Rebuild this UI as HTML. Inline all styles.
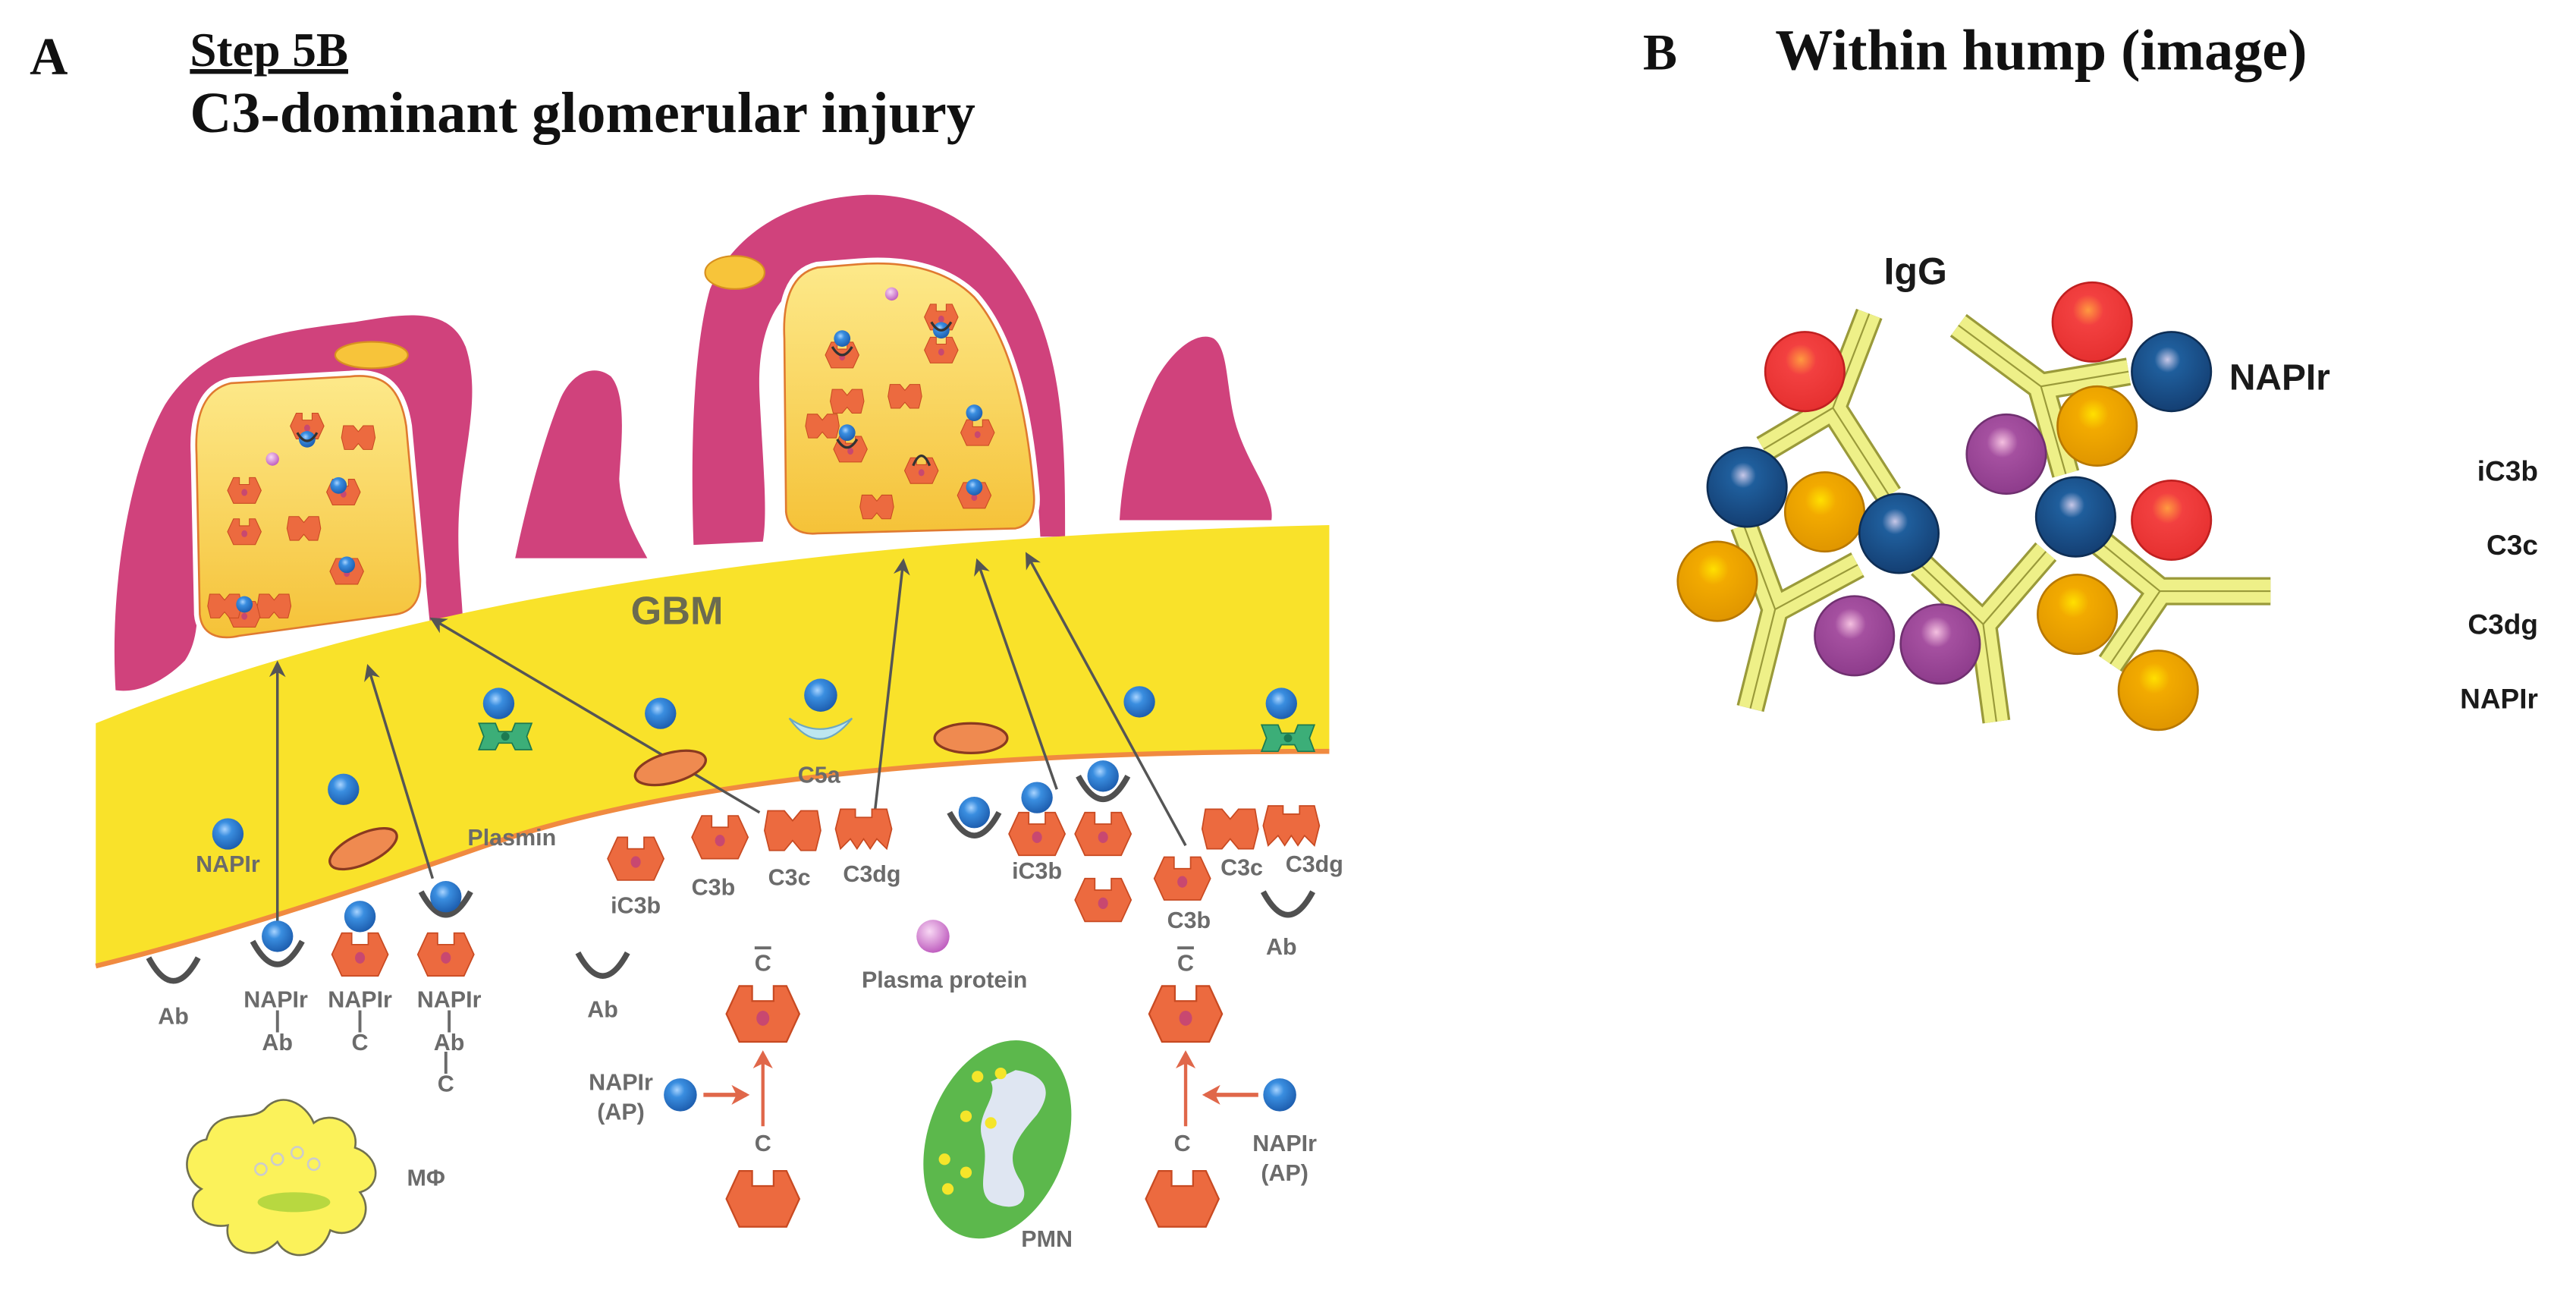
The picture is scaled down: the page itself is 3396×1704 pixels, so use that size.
<!DOCTYPE html>
<html><head><meta charset="utf-8"><style>
html,body{margin:0;padding:0;background:#fff;}
svg{display:block;}
.l{font-family:"Liberation Sans",sans-serif;font-weight:bold;fill:#6b6b6b;font-size:14px;text-anchor:middle;}
.b{font-family:"Liberation Sans",sans-serif;font-weight:bold;fill:#1a1a1a;}
.t{font-family:"Liberation Serif",serif;font-weight:bold;fill:#111;}
</style></head><body>
<svg width="3396" height="1704" viewBox="0 0 1560 783" preserveAspectRatio="none" xmlns="http://www.w3.org/2000/svg">
<defs>
<radialGradient id="gb" cx="0.4" cy="0.35" r="0.65"><stop offset="0" stop-color="#a9d4ff"/><stop offset="0.35" stop-color="#3a8ee0"/><stop offset="1" stop-color="#1e5fb0"/></radialGradient>
<radialGradient id="bB" cx="0.45" cy="0.35" r="0.65"><stop offset="0" stop-color="#c8c8e8"/><stop offset="0.25" stop-color="#1f5e9c"/><stop offset="1" stop-color="#143f73"/></radialGradient>
<radialGradient id="bR" cx="0.45" cy="0.35" r="0.65"><stop offset="0" stop-color="#ff9a40"/><stop offset="0.3" stop-color="#f24040"/><stop offset="1" stop-color="#e63030"/></radialGradient>
<radialGradient id="bO" cx="0.45" cy="0.35" r="0.65"><stop offset="0" stop-color="#ffe000"/><stop offset="0.3" stop-color="#f2aa00"/><stop offset="1" stop-color="#e09600"/></radialGradient>
<radialGradient id="bP" cx="0.45" cy="0.35" r="0.65"><stop offset="0" stop-color="#f4c0e0"/><stop offset="0.3" stop-color="#a550a0"/><stop offset="1" stop-color="#8e3c8c"/></radialGradient>
<radialGradient id="pp" cx="0.4" cy="0.35" r="0.65"><stop offset="0" stop-color="#f8d8f4"/><stop offset="1" stop-color="#c060c0"/></radialGradient>
<linearGradient id="yb" x1="0" y1="0" x2="0" y2="1"><stop offset="0" stop-color="#fde98a"/><stop offset="1" stop-color="#f5c238"/></linearGradient>
<g id="hx"><path d="M-17,0 L-11,-13 L-5,-13 L-5,-6 L5,-6 L5,-13 L11,-13 L17,0 L11,13 L-11,13 Z" fill="#ec6a3f" stroke="#c84a22" stroke-width="0.8"/><ellipse cx="0" cy="2" rx="3" ry="3.5" fill="#c84870"/></g>
<g id="c3c"><path d="M-15,-12 L-5,-12 L0,-6 L5,-12 L15,-12 L17,0 L14,12 L5,12 L0,6 L-5,12 L-14,12 L-17,0 Z" fill="#ec6a3f" stroke="#c84a22" stroke-width="0.8"/></g>
<g id="c3dg"><path d="M-14,-12 L-5,-12 L-5,-7 L5,-7 L5,-12 L14,-12 L17,0 L14,12 L8,6 L4,12 L0,6 L-4,12 L-8,6 L-14,12 L-17,0 Z" fill="#ec6a3f" stroke="#c84a22" stroke-width="0.8"/></g>
<g id="ab"><path d="M-15,-8 Q0,20 15,-8" fill="none" stroke="#505050" stroke-width="3.5"/></g>
<g id="ball"><circle r="9.5" fill="url(#gb)"/></g>
<g id="ov"><ellipse rx="22" ry="9" fill="#ef8a50" stroke="#8a3a20" stroke-width="1.5"/></g>
<g id="pl"><path d="M-16,-8 L-6,-8 L-4,-3 L4,-3 L6,-8 L16,-8 L13,0 L16,8 L6,8 L4,4 L-4,4 L-6,8 L-16,8 L-13,0Z" fill="#3cae78" stroke="#1d7a50" stroke-width="0.8"/><circle r="2.5" fill="#1d7a50"/></g>
<marker id="ar" markerWidth="10" markerHeight="10" refX="8" refY="5" orient="auto" markerUnits="userSpaceOnUse"><path d="M0,0 L10,5 L0,10 L3,5Z" fill="#555"/></marker>
<marker id="rr" markerWidth="12" markerHeight="12" refX="9" refY="6" orient="auto" markerUnits="userSpaceOnUse"><path d="M0,0 L11,6 L0,12 L3,6Z" fill="#e0674a"/></marker>
</defs>

<!-- titles -->
<text class="t" x="18" y="45" font-size="32">A</text>
<text class="t" x="115" y="40" font-size="29" text-decoration="underline">Step 5B</text>
<text class="t" x="115" y="80" font-size="35">C3-dominant glomerular injury</text>
<text class="t" x="995" y="42" font-size="31">B</text>
<text class="t" x="1075" y="42" font-size="35">Within hump (image)</text>

<!-- pink podocytes -->
<path d="M70,418 C66,350 80,280 100,245 C125,205 175,200 215,195 C245,190 272,185 282,210 C292,240 280,275 278,310 C276,345 282,370 280,392 L262,392 C258,360 256,320 250,290 C240,255 200,240 160,250 C130,258 115,290 118,330 C120,365 122,385 112,400 C100,412 85,420 70,418Z" fill="#d0427c"/>
<path d="M312,338 C320,300 330,265 338,245 C345,225 360,220 370,228 C380,240 376,270 375,290 C376,310 385,325 392,338 Z" fill="#d0427c"/>
<path d="M420,330 C418,270 420,210 430,175 C445,140 480,120 525,118 C575,117 610,150 628,190 C645,230 645,280 645,325 L630,325 C628,280 620,240 605,210 C585,175 545,160 505,165 C470,170 458,200 460,240 C462,280 465,310 462,328 Z" fill="#d0427c"/>
<path d="M678,315 C680,280 690,250 700,230 C710,212 725,200 735,205 C745,212 742,240 750,262 C758,285 772,300 770,315 Z" fill="#d0427c"/>
<ellipse cx="225" cy="215" rx="22" ry="8" fill="#f7c43a" stroke="#d89020" stroke-width="1"/>
<ellipse cx="445" cy="165" rx="18" ry="10" fill="#f7c43a" stroke="#d89020" stroke-width="1"/>

<!-- GBM -->
<path d="M58,438 C250,360 500,325 805,318 L805,455 C600,455 420,470 300,510 C200,545 120,570 58,585 Z" fill="#f9e22a"/>
<path d="M58,585 C120,570 200,545 300,510 C420,470 600,455 805,455" fill="none" stroke="#f08a40" stroke-width="3"/>
<text x="410" y="378" font-family="Liberation Sans,sans-serif" font-weight="bold" font-size="24" fill="#6b6b50" text-anchor="middle">GBM</text>

<!-- inner boxes -->
<path d="M140,232 C122,236 118,255 119,275 L121,372 C122,384 132,388 145,385 L240,372 C252,370 256,360 254,345 L246,258 C242,232 230,226 212,228 Z" fill="url(#yb)" stroke="#fff" stroke-width="7"/>
<path d="M140,232 C122,236 118,255 119,275 L121,372 C122,384 132,388 145,385 L240,372 C252,370 256,360 254,345 L246,258 C242,232 230,226 212,228 Z" fill="url(#yb)" stroke="#e07a30" stroke-width="1.2"/>
<path d="M495,162 C478,166 474,185 475,205 L476,310 C477,320 485,324 495,323 L615,320 C625,318 627,308 626,298 C622,250 612,205 590,180 C572,162 545,158 520,160 Z" fill="url(#yb)" stroke="#fff" stroke-width="7"/>
<path d="M495,162 C478,166 474,185 475,205 L476,310 C477,320 485,324 495,323 L615,320 C625,318 627,308 626,298 C622,250 612,205 590,180 C572,162 545,158 520,160 Z" fill="url(#yb)" stroke="#e07a30" stroke-width="1.2"/>
<!-- contents left box -->
<use href="#hx" transform="translate(186,258) scale(0.6)"/>
<use href="#hx" transform="translate(148,297) scale(0.6)"/>
<use href="#hx" transform="translate(148,322) scale(0.6)"/>
<use href="#c3c" transform="translate(184,320) scale(0.6)"/>
<use href="#hx" transform="translate(208,298) scale(0.6)"/>
<use href="#hx" transform="translate(210,346) scale(0.6)"/>
<use href="#hx" transform="translate(148,372) scale(0.6)"/>
<use href="#c3c" transform="translate(136,367) scale(0.6)"/>
<use href="#c3c" transform="translate(166,367) scale(0.6)"/>
<use href="#c3c" transform="translate(217,265) scale(0.6)"/>
<!-- contents right box -->
<use href="#hx" transform="translate(510,215) scale(0.6)"/>
<use href="#hx" transform="translate(570,192) scale(0.6)"/>
<use href="#hx" transform="translate(570,212) scale(0.6)"/>
<use href="#c3c" transform="translate(513,243) scale(0.6)"/>
<use href="#c3c" transform="translate(548,240) scale(0.6)"/>
<use href="#c3c" transform="translate(498,258) scale(0.6)"/>
<use href="#hx" transform="translate(515,272) scale(0.6)"/>
<use href="#hx" transform="translate(558,285) scale(0.6)"/>
<use href="#hx" transform="translate(592,262) scale(0.6)"/>
<use href="#hx" transform="translate(590,300) scale(0.6)"/>
<use href="#c3c" transform="translate(531,307) scale(0.6)"/>
<circle cx="165" cy="278" r="4" fill="url(#pp)"/><circle cx="540" cy="178" r="4" fill="url(#pp)"/>
<g fill="url(#gb)">
<circle cx="186" cy="266" r="5"/><circle cx="205" cy="294" r="5"/><circle cx="210" cy="342" r="5"/><circle cx="148" cy="366" r="5"/>
<circle cx="510" cy="205" r="5"/><circle cx="570" cy="200" r="5"/><circle cx="513" cy="262" r="5"/><circle cx="590" cy="250" r="5"/><circle cx="590" cy="295" r="5"/>
</g>
<g fill="none" stroke="#333" stroke-width="1.5">
<path d="M180,262 Q186,272 192,262"/><path d="M504,210 Q510,220 516,210"/><path d="M564,195 Q570,205 576,195"/><path d="M507,266 Q513,276 519,266"/><path d="M553,282 Q558,270 563,282"/>
</g>

<!-- arrows -->
<g stroke="#555" stroke-width="1.6" marker-end="url(#ar)">
<line x1="168" y1="565" x2="168" y2="402"/>
<line x1="262" y1="532" x2="223" y2="404"/>
<line x1="460" y1="492" x2="262" y2="375"/>
<line x1="530" y1="490" x2="547" y2="340"/>
<line x1="640" y1="478" x2="592" y2="340"/>
<line x1="718" y1="512" x2="622" y2="336"/>
</g>

<!-- GBM contents -->
<use href="#ball" x="208" y="478"/><use href="#ball" x="138" y="505"/>
<g transform="translate(220,514) rotate(-25)"><use href="#ov"/></g>
<use href="#pl" x="306" y="446"/><use href="#ball" x="302" y="426"/>
<g transform="translate(406,465) rotate(-15)"><use href="#ov"/></g><use href="#ball" x="400" y="432"/>
<path d="M478,435 Q496,460 516,435 Q496,448 478,435Z" fill="#bde6f0" stroke="#6fa8c0" stroke-width="1"/><circle cx="497" cy="421" r="10" fill="url(#gb)"/>
<g transform="translate(588,447)"><use href="#ov"/></g>
<use href="#ball" x="690" y="425"/>
<use href="#pl" x="780" y="447"/><use href="#ball" x="776" y="426"/>

<!-- below GBM -->
<use href="#ab" x="105" y="588"/><text class="l" x="105" y="620">Ab</text>
<use href="#ab" x="168" y="578"/><use href="#ball" x="168" y="567"/>
<text class="l" x="167" y="610">NAPIr</text><text class="l" x="168" y="622" font-size="9">|</text><text class="l" x="168" y="636">Ab</text>
<use href="#ball" x="218" y="555"/><use href="#hx" x="218" y="578"/>
<text class="l" x="218" y="610">NAPIr</text><text class="l" x="218" y="622" font-size="9">|</text><text class="l" x="218" y="636">C</text>
<use href="#ab" x="270" y="548"/><use href="#ball" x="270" y="543"/><use href="#hx" x="270" y="578"/>
<text class="l" x="272" y="610">NAPIr</text><text class="l" x="272" y="622" font-size="9">|</text><text class="l" x="272" y="636">Ab</text><text class="l" x="270" y="647" font-size="9">|</text><text class="l" x="270" y="661">C</text>
<text class="l" x="138" y="528">NAPIr</text>
<text class="l" x="310" y="512">Plasmin</text>
<use href="#ab" x="365" y="585"/><text class="l" x="365" y="616">Ab</text>
<use href="#hx" x="385" y="520"/><text class="l" x="385" y="553">iC3b</text>
<use href="#hx" x="436" y="507"/><text class="l" x="432" y="542">C3b</text>
<use href="#c3c" x="480" y="503"/><text class="l" x="478" y="536">C3c</text>
<use href="#c3dg" x="523" y="502"/><text class="l" x="528" y="534">C3dg</text>
<text class="l" x="496" y="474">C5a</text>
<use href="#ab" x="590" y="500"/><use href="#ball" x="590" y="492"/>
<use href="#ball" x="628" y="483"/><use href="#hx" x="628" y="505"/><text class="l" x="628" y="532">iC3b</text>
<use href="#ab" x="668" y="478"/><use href="#ball" x="668" y="470"/><use href="#hx" x="668" y="505"/><use href="#hx" x="668" y="545"/>
<use href="#hx" x="716" y="532"/><text class="l" x="720" y="562">C3b</text>
<use href="#c3c" x="745" y="502"/><text class="l" x="752" y="530">C3c</text>
<use href="#c3dg" x="782" y="500"/><text class="l" x="796" y="528">C3dg</text>
<use href="#ab" x="780" y="548"/><text class="l" x="776" y="578">Ab</text>
<circle cx="565" cy="567" r="10" fill="url(#pp)"/><text class="l" x="572" y="598">Plasma protein</text>

<!-- C activation left -->
<text class="l" x="462" y="588">C</text><line x1="457" y1="574" x2="467" y2="574" stroke="#6b6b6b" stroke-width="1.8"/>
<g transform="translate(462,614) scale(1.3)"><use href="#hx"/></g>
<line x1="462" y1="682" x2="462" y2="638" stroke="#e0674a" stroke-width="2" marker-end="url(#rr)"/>
<text class="l" x="462" y="697">C</text>
<g transform="translate(462,726) scale(1.3)"><path d="M-17,0 L-11,-13 L-5,-13 L-5,-6 L5,-6 L5,-13 L11,-13 L17,0 L11,13 L-11,13 Z" fill="#ec6a3f" stroke="#c84a22" stroke-width="0.8"/></g>
<text class="l" x="376" y="660">NAPIr</text><text class="l" x="376" y="678">(AP)</text>
<circle cx="412" cy="663" r="10" fill="url(#gb)"/>
<line x1="426" y1="663" x2="452" y2="663" stroke="#e0674a" stroke-width="2.5" marker-end="url(#rr)"/>
<!-- right -->
<text class="l" x="718" y="588">C</text><line x1="713" y1="574" x2="723" y2="574" stroke="#6b6b6b" stroke-width="1.8"/>
<g transform="translate(718,614) scale(1.3)"><use href="#hx"/></g>
<line x1="718" y1="682" x2="718" y2="638" stroke="#e0674a" stroke-width="2" marker-end="url(#rr)"/>
<text class="l" x="716" y="697">C</text>
<g transform="translate(716,726) scale(1.3)"><path d="M-17,0 L-11,-13 L-5,-13 L-5,-6 L5,-6 L5,-13 L11,-13 L17,0 L11,13 L-11,13 Z" fill="#ec6a3f" stroke="#c84a22" stroke-width="0.8"/></g>
<circle cx="775" cy="663" r="10" fill="url(#gb)"/>
<line x1="762" y1="663" x2="730" y2="663" stroke="#e0674a" stroke-width="2.5" marker-end="url(#rr)"/>
<text class="l" x="778" y="697">NAPIr</text><text class="l" x="778" y="715">(AP)</text>

<!-- MΦ -->
<path d="M125,690 C130,670 150,680 160,672 C170,660 185,668 190,680 C200,672 218,680 215,695 C230,700 232,718 218,722 C228,735 215,752 200,745 C195,762 175,765 168,752 C155,765 135,758 138,742 C120,745 110,728 122,720 C108,712 112,692 125,690Z" fill="#fbf25a" stroke="#707050" stroke-width="1.2"/>
<ellipse cx="178" cy="728" rx="22" ry="6" fill="#b8d840"/>
<circle cx="168" cy="702" r="3.5" fill="none" stroke="#ccc" stroke-width="1.2"/><circle cx="180" cy="698" r="3.5" fill="none" stroke="#ccc" stroke-width="1.2"/><circle cx="190" cy="705" r="3.5" fill="none" stroke="#ccc" stroke-width="1.2"/><circle cx="158" cy="708" r="3.5" fill="none" stroke="#ccc" stroke-width="1.2"/>
<text class="l" x="258" y="718" font-size="17">MΦ</text>
<!-- PMN -->
<ellipse cx="604" cy="690" rx="42" ry="62" transform="rotate(20 604 690)" fill="#5cb84c"/>
<path d="M615,648 C630,650 640,658 628,675 C615,690 608,700 618,715 C625,728 615,735 600,728 C590,720 600,705 595,690 C590,675 605,665 600,655 Z" fill="#dfe6f2"/>
<g fill="#f5e52a"><circle cx="592" cy="652" r="3.5"/><circle cx="606" cy="650" r="3.5"/><circle cx="585" cy="676" r="3.5"/><circle cx="600" cy="680" r="3.5"/><circle cx="572" cy="702" r="3.5"/><circle cx="585" cy="710" r="3.5"/><circle cx="574" cy="720" r="3.5"/></g>
<text class="l" x="634" y="755" font-size="17">PMN</text>

<!-- Panel B -->
<g stroke-linecap="butt">
<g stroke="#9a9a3a" stroke-width="17">
<path d="M1132,190 L1110,247 L1068,272 M1110,247 L1144,300 M1056,318 L1075,369 L1060,429 M1075,369 L1125,342 M1163,342 L1201,378 L1209,437 M1201,378 L1239,334 M1186,197 L1236,234 L1289,225 M1236,234 L1251,287 M1270,327 L1308,358 L1375,358 M1308,358 L1278,402" fill="none" stroke-linejoin="bevel"/>
</g>
<g stroke="#eef088" stroke-width="14">
<path d="M1132,190 L1110,247 L1068,272 M1110,247 L1144,300 M1056,318 L1075,369 L1060,429 M1075,369 L1125,342 M1163,342 L1201,378 L1209,437 M1201,378 L1239,334 M1186,197 L1236,234 L1289,225 M1236,234 L1251,287 M1270,327 L1308,358 L1375,358 M1308,358 L1278,402" fill="none" stroke-linejoin="bevel"/>
</g>
<g stroke="#9a9a3a" stroke-width="1">
<path d="M1132,190 L1110,247 L1068,272 M1110,247 L1144,300 M1056,318 L1075,369 L1060,429 M1075,369 L1125,342 M1163,342 L1201,378 L1209,437 M1201,378 L1239,334 M1186,197 L1236,234 L1289,225 M1236,234 L1251,287 M1270,327 L1308,358 L1375,358 M1308,358 L1278,402" fill="none"/>
</g>
</g>
<g stroke-width="1.2">
<circle cx="1093" cy="225" r="24" fill="url(#bR)" stroke="#c02020"/>
<circle cx="1267" cy="195" r="24" fill="url(#bR)" stroke="#c02020"/>
<circle cx="1315" cy="315" r="24" fill="url(#bR)" stroke="#c02020"/>
<circle cx="1105" cy="310" r="24" fill="url(#bO)" stroke="#b87800"/>
<circle cx="1040" cy="352" r="24" fill="url(#bO)" stroke="#b87800"/>
<circle cx="1270" cy="258" r="24" fill="url(#bO)" stroke="#b87800"/>
<circle cx="1258" cy="372" r="24" fill="url(#bO)" stroke="#b87800"/>
<circle cx="1307" cy="418" r="24" fill="url(#bO)" stroke="#b87800"/>
<circle cx="1215" cy="275" r="24" fill="url(#bP)" stroke="#703070"/>
<circle cx="1123" cy="385" r="24" fill="url(#bP)" stroke="#703070"/>
<circle cx="1175" cy="390" r="24" fill="url(#bP)" stroke="#703070"/>
<circle cx="1058" cy="295" r="24" fill="url(#bB)" stroke="#0e2e55"/>
<circle cx="1150" cy="323" r="24" fill="url(#bB)" stroke="#0e2e55"/>
<circle cx="1315" cy="225" r="24" fill="url(#bB)" stroke="#0e2e55"/>
<circle cx="1257" cy="313" r="24" fill="url(#bB)" stroke="#0e2e55"/>
</g>
<text class="b" x="1160" y="172" font-size="23" text-anchor="middle">IgG</text>
<text class="b" x="1350" y="236" font-size="22">NAPIr</text>
<text class="b" x="1537" y="291" font-size="17" text-anchor="end">iC3b</text>
<text class="b" x="1537" y="336" font-size="17" text-anchor="end">C3c</text>
<text class="b" x="1537" y="384" font-size="17" text-anchor="end">C3dg</text>
<text class="b" x="1537" y="429" font-size="17" text-anchor="end">NAPIr</text>
</svg>
</body></html>
